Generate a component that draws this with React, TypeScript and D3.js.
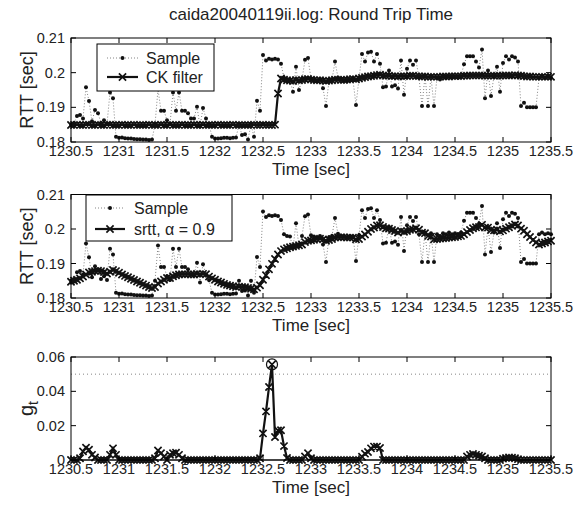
import React from 'react';
import * as d3 from 'd3';

// sampling grid of the log (start time, step in seconds)
const T0 = 1230.5;
const DT = 1 / 32;

const sampleRtt = [
  .1850, .1855, .1875, .1878, .1868, .1958, .1918, .1860, .1892, .1883,
  .1855, .1863, .1852, .1943, .1926, .1815, .1812, .1813, .1811, .1810,
  .1810, .1809, .1808, .1808, .1807, .1807, .1806, .1807, .1850, .1952,
  .1890, .1890, .1863, .1852, .1943, .1890, .1943, .1890, .1890, .1883,
  .1868, .1868, .1902, .1845, .1898, .1868, .1852, .1815, .1810, .1810,
  .1811, .1812, .1812, .1811, .1812, .1813, .1850, .1820, .1822, .1807,
  .1850, .1815, .1919, .1890, .2051, .2035, .2040, .2038, .2040, .2038,
  .2026, .1985, .1980, .1978, .1945, .2017, .1950, .1980, .2037, .2042,
  .1982, .1978, .1975, .1980, .1955, .1904, .1976, .1980, .2032, .1986,
  .1980, .1978, .1975, .1980, .1978, .1907, .1982, .2054, .2032, .2058,
  .2060, .2032, .2054, .2026, .1958, .1960, .2006, .1960, .1964, .1954,
  .2035, .1936, .2011, .2035, .2023, .2035, .1985, .1904, .1990, .1904,
  .1988, .1904, .1985, .1980, .1988, .1985, .1990, .1985, .1988, .1985,
  .1990, .2024, .2047, .2047, .2047, .2032, .2015, .2067, .1926, .2006,
  .1933, .1990, .2017, .1945, .2028, .2047, .2038, .2047, .2044, .2032,
  .1904, .1913, .1900, .1900, .1900, .1900, .1985, .1990, .1985, .1988,
  .1985,
];

const ckFilter = [
  .1849, .1849, .1850, .1849, .1849, .1850, .1850, .1849, .1849, .1850,
  .1849, .1849, .1850, .1850, .1849, .1849, .1849, .1850, .1849, .1849,
  .1849, .1850, .1849, .1849, .1849, .1849, .1850, .1849, .1849, .1849,
  .1850, .1849, .1849, .1850, .1849, .1849, .1849, .1850, .1849, .1849,
  .1849, .1850, .1849, .1849, .1850, .1849, .1849, .1849, .1849, .1850,
  .1849, .1849, .1849, .1849, .1850, .1849, .1849, .1849, .1849, .1849,
  .1849, .1850, .1849, .1849, .1850, .1849, .1849, .1849, .1850, .1940,
  .1983, .1980, .1978, .1977, .1976, .1979, .1978, .1979, .1981, .1982,
  .1980, .1979, .1978, .1978, .1977, .1976, .1977, .1978, .1980, .1980,
  .1979, .1979, .1980, .1981, .1982, .1981, .1983, .1985, .1987, .1989,
  .1990, .1991, .1993, .1994, .1992, .1991, .1991, .1990, .1990, .1989,
  .1990, .1990, .1990, .1991, .1991, .1990, .1990, .1989, .1989, .1988,
  .1988, .1988, .1988, .1988, .1989, .1989, .1989, .1990, .1990, .1990,
  .1990, .1991, .1991, .1992, .1992, .1992, .1992, .1992, .1991, .1991,
  .1991, .1991, .1991, .1991, .1992, .1992, .1992, .1992, .1993, .1992,
  .1991, .1990, .1989, .1989, .1988, .1988, .1988, .1988, .1988, .1988,
  .1988,
];

const srtt = [
  .1847, .1850, .1853, .1857, .1862, .1868, .1874, .1876, .1878, .1879,
  .1878, .1875, .1871, .1876, .1881, .1878, .1873, .1868, .1864, .1860,
  .1856, .1852, .1848, .1844, .1840, .1836, .1832, .1829, .1832, .1842,
  .1848, .1853, .1858, .1858, .1863, .1866, .1868, .1869, .1869, .1869,
  .1868, .1868, .1870, .1869, .1870, .1869, .1862, .1857, .1853, .1848,
  .1845, .1841, .1838, .1836, .1834, .1832, .1833, .1832, .1831, .1829,
  .1827, .1825, .1830, .1837, .1853, .1866, .1883, .1899, .1913, .1926,
  .1936, .1941, .1944, .1947, .1949, .1951, .1953, .1955, .1962, .1966,
  .1967, .1969, .1971, .1972, .1970, .1966, .1968, .1971, .1975, .1976,
  .1976, .1976, .1975, .1975, .1975, .1970, .1971, .1978, .1984, .1992,
  .2000, .2004, .2010, .2011, .2006, .2002, .2001, .1997, .1994, .1990,
  .1994, .1992, .1994, .1998, .1999, .2002, .1998, .1989, .1988, .1980,
  .1978, .1970, .1971, .1972, .1973, .1974, .1975, .1976, .1977, .1979,
  .1980, .1985, .1991, .1997, .2002, .2005, .2006, .2012, .2004, .2004,
  .1997, .1996, .1998, .1993, .1996, .2001, .2005, .2009, .2013, .2010,
  .2001, .1995, .1985, .1977, .1968, .1961, .1955, .1958, .1961, .1964,
  .1966,
];

const gt = [
  0, 0, 0, .0010, .0050, .0072, .0060, .0030, .0015, 0,
  0, 0, 0, .0030, .0068, .0030, 0, 0, 0, 0,
  0, 0, 0, 0, 0, 0, 0, 0, .0010, .0055,
  .0040, .0020, 0, .0030, .0040, .0042, .0030, .0010, 0, 0,
  0, 0, 0, 0, 0, 0, 0, 0, 0, 0,
  0, 0, 0, 0, 0, 0, 0, 0, 0, 0,
  0, 0, 0, .0010, .0155, .0283, .0425, .0557, .0134, .0172,
  .0173, .0081, .0012, 0, 0, 0, 0, 0, .0020, .0040,
  .0010, 0, 0, 0, 0, 0, 0, 0, 0, 0,
  0, 0, 0, 0, 0, 0, 0, .0019, .0037, .0047,
  .0068, .0078, .0078, .0070, 0, 0, 0, 0, 0, 0,
  0, 0, 0, 0, 0, 0, 0, 0, 0, 0,
  0, 0, 0, 0, 0, 0, 0, 0, 0, 0,
  0, 0, .0020, .0030, .0035, .0030, .0025, .0020, .0010, 0,
  0, 0, 0, 0, .0008, .0012, .0015, .0013, .0010, .0005,
  0, 0, 0, 0, 0, 0, 0, 0, 0, 0,
  0,
];

const xTicks = [1230.5, 1231, 1231.5, 1232, 1232.5, 1233, 1233.5, 1234, 1234.5, 1235, 1235.5];
const rttTicks = [0.18, 0.19, 0.2, 0.21];
const gtTicks = [0, 0.02, 0.04, 0.06];
const threshold = 0.05;

const FONT = "'Liberation Sans', Arial, Helvetica, sans-serif";

const times = sampleRtt.map((_, i) => T0 + i * DT);

const x = d3.scaleLinear().domain([1230.5, 1235.5]).range([71, 551]);
const yTop = d3.scaleLinear().domain([0.18, 0.21]).range([142, 38]);
const yMid = d3.scaleLinear().domain([0.18, 0.21]).range([298, 194.5]);
const yBot = d3.scaleLinear().domain([0, 0.06]).range([460, 357]);

function xMarkPath(px: number, py: number, s: number) {
  return `M${px - s},${py - s}L${px + s},${py + s}M${px - s},${py + s}L${px + s},${py - s}`;
}

function Frame({ y, yTicks }: { y: d3.ScaleLinear<number, number>; yTicks: number[] }) {
  const [x0, x1] = x.range();
  const [yb, yt] = y.range();
  return (
    <g>
      <rect x={x0} y={yt} width={x1 - x0} height={yb - yt} fill="none" stroke="#000" strokeWidth={1} />
      {xTicks.map((t) => (
        <g key={'x' + t}>
          <line x1={x(t)} x2={x(t)} y1={yb} y2={yb - 5} stroke="#000" />
          <line x1={x(t)} x2={x(t)} y1={yt} y2={yt + 5} stroke="#000" />
          <text x={x(t)} y={yb + 14} textAnchor="middle" fontSize={14.5} fill="#222">{String(t)}</text>
        </g>
      ))}
      {yTicks.map((v) => (
        <g key={'y' + v}>
          <line x1={x0} x2={x0 + 5} y1={y(v)} y2={y(v)} stroke="#000" />
          <line x1={x1} x2={x1 - 5} y1={y(v)} y2={y(v)} stroke="#000" />
          <text x={x0 - 6} y={y(v) + 5} textAnchor="end" fontSize={14.5} fill="#222">{String(v)}</text>
        </g>
      ))}
      <text x={(x0 + x1) / 2} y={yb + 33} textAnchor="middle" fontSize={17} fill="#222">Time [sec]</text>
    </g>
  );
}

function SampleMarks({ y, id }: { y: d3.ScaleLinear<number, number>; id: string }) {
  const line = d3.line<number>().x((_, i) => x(times[i])).y((d) => y(d));
  return (
    <g clipPath={`url(#${id})`}>
      <path d={line(sampleRtt) || ''} fill="none" stroke="#777" strokeWidth={0.9} strokeDasharray="1 2" />
      {sampleRtt.map((v, i) => (
        <circle key={i} cx={x(times[i])} cy={y(v)} r={2} fill="#111" />
      ))}
    </g>
  );
}

function XSeries({ y, data, id, s = 3.6 }: { y: d3.ScaleLinear<number, number>; data: number[]; id: string; s?: number }) {
  const line = d3.line<number>().x((_, i) => x(times[i])).y((d) => y(d));
  const marks = data.map((v, i) => xMarkPath(x(times[i]), y(v), s)).join('');
  return (
    <g clipPath={`url(#${id})`}>
      <path d={line(data) || ''} fill="none" stroke="#111" strokeWidth={2.2} />
      <path d={marks} fill="none" stroke="#111" strokeWidth={1.7} />
    </g>
  );
}

function Clip({ id, y }: { id: string; y: d3.ScaleLinear<number, number> }) {
  const [x0, x1] = x.range();
  const [yb, yt] = y.range();
  return (
    <clipPath id={id}>
      <rect x={x0 - 4} y={yt - 8} width={x1 - x0 + 8} height={yb - yt + 12} />
    </clipPath>
  );
}

export default function App() {
  const [x0, x1] = x.range();
  const cx = (x0 + x1) / 2;
  const peakIdx = gt.indexOf(Math.max(...gt));
  return (
    <svg width={575} height={508} viewBox="0 0 575 508"
      style={{ position: 'absolute', left: 0, top: 0, background: '#fff' }} fontFamily={FONT}>
      <defs>
        <Clip id="cTop" y={yTop} />
        <Clip id="cMid" y={yMid} />
        <Clip id="cBot" y={yBot} />
      </defs>
      <rect x={0} y={0} width={575} height={508} fill="#fff" />

      <text x={cx} y={20} textAnchor="middle" fontSize={17} fill="#222">caida20040119ii.log: Round Trip Time</text>

      {/* Top panel */}
      <SampleMarks y={yTop} id="cTop" />
      <XSeries y={yTop} data={ckFilter} id="cTop" />
      <Frame y={yTop} yTicks={rttTicks} />
      <text transform={`translate(33,${(38 + 142) / 2}) rotate(-90)`} textAnchor="middle" fontSize={18} fill="#222">RTT [sec]</text>
      <g>
        <rect x={97} y={44} width={117} height={47} fill="#fff" stroke="#000" strokeWidth={1} />
        <line x1={107} x2={138} y1={58} y2={58} stroke="#777" strokeWidth={0.9} strokeDasharray="1 2" />
        <circle cx={122.5} cy={58} r={2} fill="#111" />
        <text x={146} y={63.5} fontSize={16} fill="#222">Sample</text>
        <line x1={107} x2={138} y1={77} y2={77} stroke="#111" strokeWidth={2.2} />
        <path d={xMarkPath(122.5, 77, 3.6)} stroke="#111" strokeWidth={1.7} />
        <text x={146} y={82.5} fontSize={16} fill="#222">CK filter</text>
      </g>

      {/* Middle panel */}
      <SampleMarks y={yMid} id="cMid" />
      <XSeries y={yMid} data={srtt} id="cMid" />
      <Frame y={yMid} yTicks={rttTicks} />
      <text transform={`translate(33,${(194.5 + 298) / 2}) rotate(-90)`} textAnchor="middle" fontSize={18} fill="#222">RTT [sec]</text>
      <g>
        <rect x={86} y={195} width={146} height={46} fill="#fff" stroke="#000" strokeWidth={1} />
        <line x1={95} x2={125} y1={208} y2={208} stroke="#777" strokeWidth={0.9} strokeDasharray="1 2" />
        <circle cx={110} cy={208} r={2} fill="#111" />
        <text x={134} y={213.5} fontSize={16} fill="#222">Sample</text>
        <line x1={95} x2={125} y1={229} y2={229} stroke="#111" strokeWidth={2.2} />
        <path d={xMarkPath(110, 229, 3.6)} stroke="#111" strokeWidth={1.7} />
        <text x={134} y={234.5} fontSize={16} fill="#222">srtt, α = 0.9</text>
      </g>

      {/* Bottom panel */}
      <line x1={x0} x2={x1} y1={yBot(threshold)} y2={yBot(threshold)} stroke="#777" strokeWidth={0.9} strokeDasharray="1 3" />
      <line x1={x0} x2={x1} y1={yBot(0)} y2={yBot(0)} stroke="#111" strokeWidth={1} />
      <XSeries y={yBot} data={gt} id="cBot" />
      <circle cx={x(times[peakIdx])} cy={yBot(gt[peakIdx])} r={5.5} fill="none" stroke="#111" strokeWidth={1.2} />
      <Frame y={yBot} yTicks={gtTicks} />
      <text transform={`translate(33,${(357 + 460) / 2}) rotate(-90)`} textAnchor="middle" fontSize={20} fill="#222">
        g<tspan fontSize={14} dy={5}>t</tspan>
      </text>
    </svg>
  );
}
